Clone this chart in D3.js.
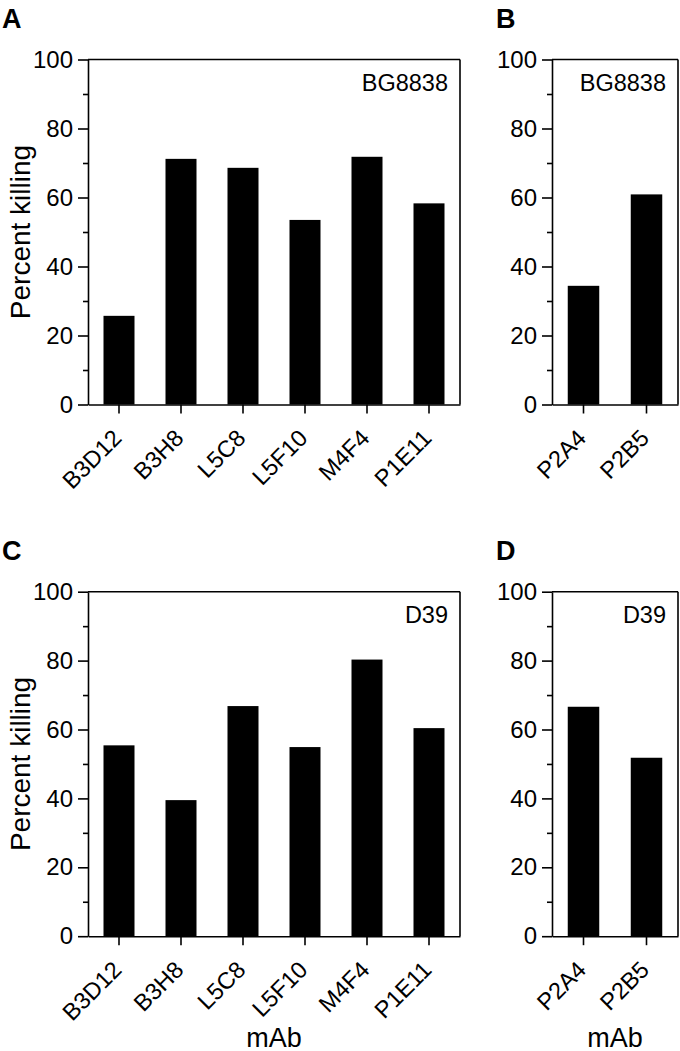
<!DOCTYPE html>
<html>
<head>
<meta charset="utf-8">
<script src="https://cdn.jsdelivr.net/npm/d3@7"></script>
<style>
  html, body { margin: 0; padding: 0; background: #fff; }
  svg { display: block; font-family: "Liberation Sans", Arial, Helvetica, sans-serif; }
</style>
</head>
<body>
<svg id="chart" width="680" height="1051"></svg>
<script>
// ---- data ----
const mAbsLeft = ["B3D12", "B3H8", "L5C8", "L5F10", "M4F4", "P1E11"];
const mAbsRight = ["P2A4", "P2B5"];
const killingA_BG8838 = [25.7, 71.2, 68.6, 53.5, 71.8, 58.3];
const killingB_BG8838 = [34.4, 60.9];
const killingC_D39 = [55.4, 39.5, 66.8, 54.9, 80.3, 60.4];
const killingD_D39 = [66.6, 51.8];
const yMajorTicks = [0, 20, 40, 60, 80, 100];
const yMinorTicks = [10, 30, 50, 70, 90];
const panelLetters = ["A", "B", "C", "D"];
const strains = ["BG8838", "BG8838", "D39", "D39"];
const yTitle = "Percent killing";
const xTitle = "mAb";

const svg = d3.select("#chart");
const FF = "Liberation Sans, Arial, Helvetica, sans-serif";

const panels = [
  { letter: panelLetters[0], strain: strains[0], cats: mAbsLeft,  vals: killingA_BG8838, x0: 88,  x1: 460, y0: 59.5,  y1: 404.5, yTitle: true,  xTitle: false },
  { letter: panelLetters[1], strain: strains[1], cats: mAbsRight, vals: killingB_BG8838, x0: 552, x1: 678, y0: 59.5,  y1: 404.5, yTitle: false, xTitle: false },
  { letter: panelLetters[2], strain: strains[2], cats: mAbsLeft,  vals: killingC_D39,    x0: 88,  x1: 460, y0: 591.7, y1: 936.2, yTitle: true,  xTitle: true },
  { letter: panelLetters[3], strain: strains[3], cats: mAbsRight, vals: killingD_D39,    x0: 552, x1: 678, y0: 591.7, y1: 936.2, yTitle: false, xTitle: true }
];

const SW = 1.6;

panels.forEach(p => {
  const g = svg.append("g");
  const x = d3.scaleBand().domain(p.cats).range([p.x0, p.x1]).paddingInner(0.5).paddingOuter(0.25);
  const y = d3.scaleLinear().domain([0, 100]).range([p.y1, p.y0]);

  // bars
  g.selectAll("rect.bar").data(p.cats.map((c, i) => ({ c, v: p.vals[i] }))).enter()
    .append("rect").attr("class", "bar")
    .attr("x", d => x(d.c)).attr("width", x.bandwidth())
    .attr("y", d => y(d.v)).attr("height", d => y(0) - y(d.v))
    .attr("fill", "#000");

  // frame: top and right
  g.append("line").attr("x1", p.x0).attr("x2", p.x1).attr("y1", p.y0).attr("y2", p.y0)
    .attr("stroke", "#000").attr("stroke-width", SW);
  g.append("line").attr("x1", p.x1).attr("x2", p.x1).attr("y1", p.y0).attr("y2", p.y1)
    .attr("stroke", "#000").attr("stroke-width", SW);

  // y axis major
  const ya = g.append("g").attr("transform", `translate(${p.x0},0)`)
    .call(d3.axisLeft(y).tickValues(yMajorTicks).tickSize(10).tickPadding(5).tickSizeOuter(0));
  ya.select(".domain").attr("stroke-width", SW);
  ya.selectAll(".tick line").attr("stroke-width", SW);
  ya.selectAll(".tick text").attr("font-size", 24).attr("fill", "#000").attr("font-family", FF);

  // y axis minor
  const ym = g.append("g").attr("transform", `translate(${p.x0},0)`)
    .call(d3.axisLeft(y).tickValues(yMinorTicks).tickSize(5).tickFormat("").tickSizeOuter(0));
  ym.select(".domain").remove();
  ym.selectAll(".tick line").attr("stroke-width", SW);

  // x axis
  const xa = g.append("g").attr("transform", `translate(0,${p.y1})`)
    .call(d3.axisBottom(x).tickSize(9).tickSizeOuter(0));
  xa.select(".domain").attr("stroke-width", SW);
  xa.selectAll(".tick line").attr("stroke-width", SW);
  xa.selectAll(".tick text")
    .attr("font-size", 23.5).attr("fill", "#000").attr("font-family", FF)
    .attr("text-anchor", "end")
    .attr("x", 0).attr("y", 0).attr("dy", 0)
    .attr("transform", "translate(4,35) rotate(-45)");

  // strain label
  g.append("text").attr("x", p.x1 - 12).attr("y", p.y0 + 31.5)
    .attr("text-anchor", "end").attr("font-size", 23.5).text(p.strain);

  // panel letter
  g.append("text").attr("x", p.x0 < 300 ? 2 : 496).attr("y", p.y0 - 32)
    .attr("font-size", 27).attr("font-weight", "bold").text(p.letter);

  if (p.yTitle) {
    g.append("text")
      .attr("transform", `translate(30,${(p.y0 + p.y1) / 2}) rotate(-90)`)
      .attr("text-anchor", "middle").attr("font-size", 28).text(yTitle);
  }
  if (p.xTitle) {
    g.append("text").attr("x", (p.x0 + p.x1) / 2).attr("y", 1046.5)
      .attr("text-anchor", "middle").attr("font-size", 27).text(xTitle);
  }
});
</script>
</body>
</html>
